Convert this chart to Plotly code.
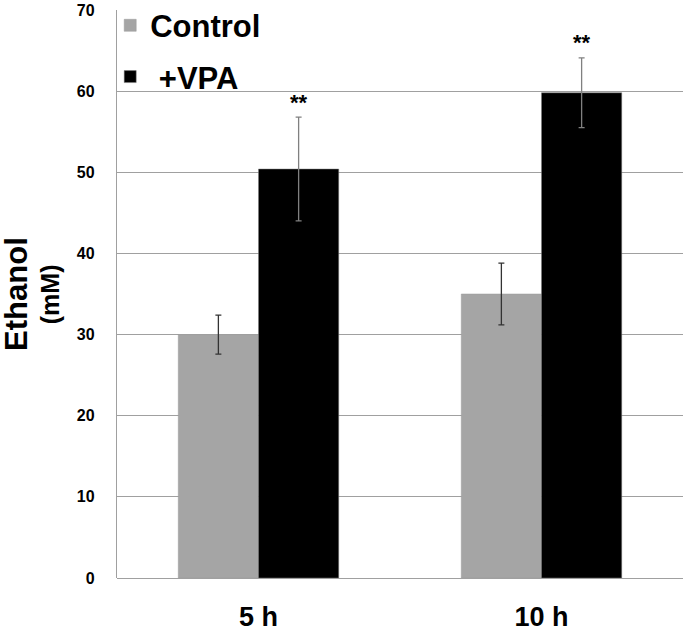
import plotly.graph_objects as go

categories = ["5 h", "10 h"]
control = [30.0, 35.0]
control_err = [2.4, 3.8]
vpa = [50.4, 59.8]
vpa_err = [6.4, 4.3]
sig_labels = ["**", "**"]
y_ticks = [0, 10, 20, 30, 40, 50, 60, 70]

FONT = "Liberation Sans, Arial, sans-serif"

fig = go.Figure()
fig.add_trace(go.Bar(
    name="<b>Control</b>", x=categories, y=control, legendgroup="a",
    marker=dict(color="#a5a5a5", line=dict(color="#9a9a9a", width=0.5)),
    error_y=dict(type="data", array=control_err, color="#333333", thickness=1.3, width=3),
))
fig.add_trace(go.Bar(
    name="<b>\u00a0+VPA</b>", x=categories, y=vpa, legendgroup="b",
    marker=dict(color="#000000", line=dict(color="#7f7f7f", width=0.5)),
    error_y=dict(type="data", array=vpa_err, color="#808080", thickness=1.3, width=3),
))

for cat, v, e, s in zip(categories, vpa, vpa_err, sig_labels):
    fig.add_annotation(x=cat, y=v + e, text=f"<b>{s}</b>", showarrow=False, xref="x", yref="y",
                       xshift=40, yshift=15,
                       font=dict(family=FONT, size=22, color="black"))

fig.add_annotation(xref="paper", yref="paper", x=-0.168, y=0.5, xshift=-6,
                   text="<b>Ethanol</b>", textangle=-90, showarrow=False,
                   xanchor="center", yanchor="middle",
                   font=dict(family=FONT, size=31, color="black"))
fig.add_annotation(xref="paper", yref="paper", x=-0.118, y=0.5,
                   text="<b>(mM)</b>", textangle=-90, showarrow=False,
                   xanchor="center", yanchor="middle",
                   font=dict(family=FONT, size=25, color="black"))

fig.update_layout(
    width=685, height=631,
    margin=dict(l=117, r=2, t=10, b=53, autoexpand=False),
    paper_bgcolor="white", plot_bgcolor="white",
    barmode="group", bargap=0.433, bargroupgap=0,
    showlegend=True,
    legend=dict(x=-0.012, y=1.02, xanchor="left", yanchor="top",
                bgcolor="rgba(0,0,0,0)", font=dict(family=FONT, size=31, color="black"),
                tracegroupgap=8, itemwidth=30, traceorder="grouped"),
    font=dict(family=FONT, color="black"),
)
fig.update_xaxes(showgrid=False, showline=False, ticks="", automargin=False,
                 tickfont=dict(family=FONT, size=27, color="black"),
                 ticklabelstandoff=20,
                 ticktext=[f"<b>{c}</b>" for c in categories], tickvals=categories)
fig.update_yaxes(range=[0, 70], tickvals=y_ticks, automargin=False,
                 ticktext=[f"<b>{t}</b>" for t in y_ticks],
                 showgrid=True, gridcolor="#a0a0a0", gridwidth=1.3,
                 showline=True, linecolor="#a0a0a0", linewidth=1.3,
                 zeroline=True, zerolinecolor="#a0a0a0", zerolinewidth=1.3,
                 ticks="", ticklabelstandoff=18,
                 tickfont=dict(family=FONT, size=16, color="black"))

fig.write_html("out.html")
